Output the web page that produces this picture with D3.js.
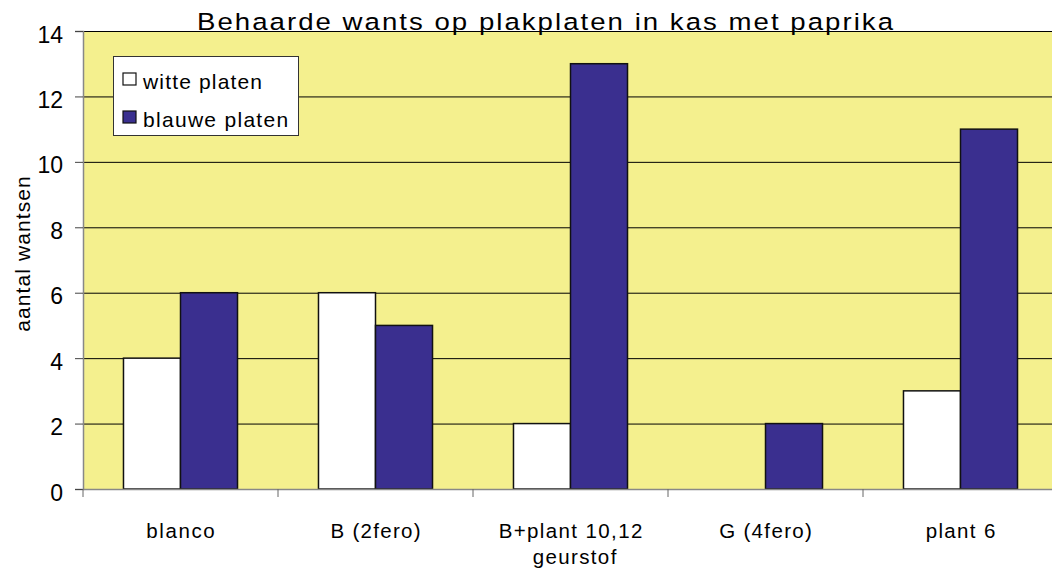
<!DOCTYPE html>
<html><head><meta charset="utf-8">
<script src="https://cdn.jsdelivr.net/npm/d3@7"></script>
<style>body{margin:0;background:#fff}svg{display:block;font-family:"Liberation Sans",Arial,sans-serif}</style>
</head><body><svg id="c" width="1052" height="575"></svg>
<script>
const categories = ["blanco", "B (2fero)", "B+plant 10,12", "G (4fero)", "plant 6"];
const seriesNames = ["witte platen", "blauwe platen"];
const witte = [4, 6, 2, 0, 3];
const blauwe = [6, 5, 13, 2, 11];
const yTicks = [0, 2, 4, 6, 8, 10, 12, 14];
const colors = ["#ffffff", "#3a2f8f"];

const svg = d3.select("#c");
const m = {l: 83, r: 1058, t: 31, b: 489};
const x = d3.scaleBand().domain(categories).range([m.l, m.r]).paddingInner(0).paddingOuter(0);
const xi = d3.scaleBand().domain(seriesNames).range([0, x.bandwidth()]).paddingInner(0).paddingOuter(0.71);
const y = d3.scaleLinear().domain([0, 14]).range([m.b, m.t]);

function stretch(sel, f, mode) {
  sel.each(function () {
    const w = this.getComputedTextLength();
    d3.select(this).attr("textLength", w * f).attr("lengthAdjust", mode || "spacing");
  });
  return sel;
}

svg.append("rect").attr("x", m.l).attr("y", m.t).attr("width", m.r - m.l).attr("height", m.b - m.t).attr("fill", "#f4f08e");

svg.append("g").selectAll("line").data(yTicks.filter(d => d > 0)).join("line")
  .attr("x1", m.l).attr("x2", m.r).attr("y1", d => y(d) + 0.5).attr("y2", d => y(d) + 0.5)
  .attr("stroke", "#000").attr("stroke-width", 1);

const data = [witte, blauwe];
categories.forEach((c, i) => {
  seriesNames.forEach((s, j) => {
    const v = data[j][i];
    if (v <= 0) return;
    svg.append("rect").attr("x", x(c) + xi(s)).attr("y", y(v)).attr("width", xi.bandwidth()).attr("height", y(0) - y(v))
      .attr("fill", colors[j]).attr("stroke", "#111").attr("stroke-width", 1.5);
  });
});

const ya = svg.append("g").attr("transform", `translate(${m.l},0)`)
  .call(d3.axisLeft(y).tickValues(yTicks).tickSize(8).tickPadding(12).tickFormat(d3.format("d")));
ya.select(".domain").attr("stroke", "#888").attr("stroke-width", 1.5);
ya.selectAll(".tick line").attr("stroke", "#444");
ya.selectAll("text").attr("font-size", 23).attr("fill", "#000").attr("dy", "0.48em").attr("font-family", "Liberation Sans, Arial, sans-serif");

const xa = svg.append("g").attr("transform", `translate(0,${m.b})`)
  .call(d3.axisBottom(x).tickSize(0).tickFormat(""));
xa.select(".domain").attr("stroke", "#888").attr("stroke-width", 1.5);
const edges = categories.map(c => x(c)).concat([m.r]);
svg.append("g").selectAll("line").data(edges).join("line")
  .attr("x1", d => d).attr("x2", d => d).attr("y1", m.b).attr("y2", m.b + 8).attr("stroke", "#666");

stretch(svg.append("g").selectAll("text").data(categories).join("text")
  .attr("x", d => x(d) + x.bandwidth() / 2).attr("y", 538).attr("text-anchor", "middle")
  .attr("font-size", 20.5).text(d => d), 1.13);

stretch(svg.append("text").attr("x", (m.l + m.r) / 2 + 4).attr("y", 564).attr("text-anchor", "middle").attr("font-size", 20.5).text("geurstof"), 1.13);
stretch(svg.append("text").attr("transform", `translate(30,${254}) rotate(-90)`).attr("text-anchor", "middle").attr("font-size", 21).text("aantal wantsen"), 1.1);
svg.append("text").attr("x", 546).attr("y", 30).attr("text-anchor", "middle").attr("font-size", 24.5)
  .attr("letter-spacing", 1.8)
  .attr("textLength", 698).attr("lengthAdjust", "spacingAndGlyphs").text("Behaarde wants op plakplaten in kas met paprika");

const lg = svg.append("g");
lg.append("rect").attr("x", 113.5).attr("y", 56.5).attr("width", 185).attr("height", 79).attr("fill", "#fff").attr("stroke", "#333").attr("stroke-width", 1);
seriesNames.forEach((s, j) => {
  const yy = 73 + j * 38;
  lg.append("rect").attr("x", 123).attr("y", yy).attr("width", 13).attr("height", 12).attr("fill", colors[j]).attr("stroke", "#111").attr("stroke-width", 1.2);
  stretch(lg.append("text").attr("x", 143).attr("y", yy + 16).attr("font-size", 21).text(s), 1.12);
});
</script></body></html>
